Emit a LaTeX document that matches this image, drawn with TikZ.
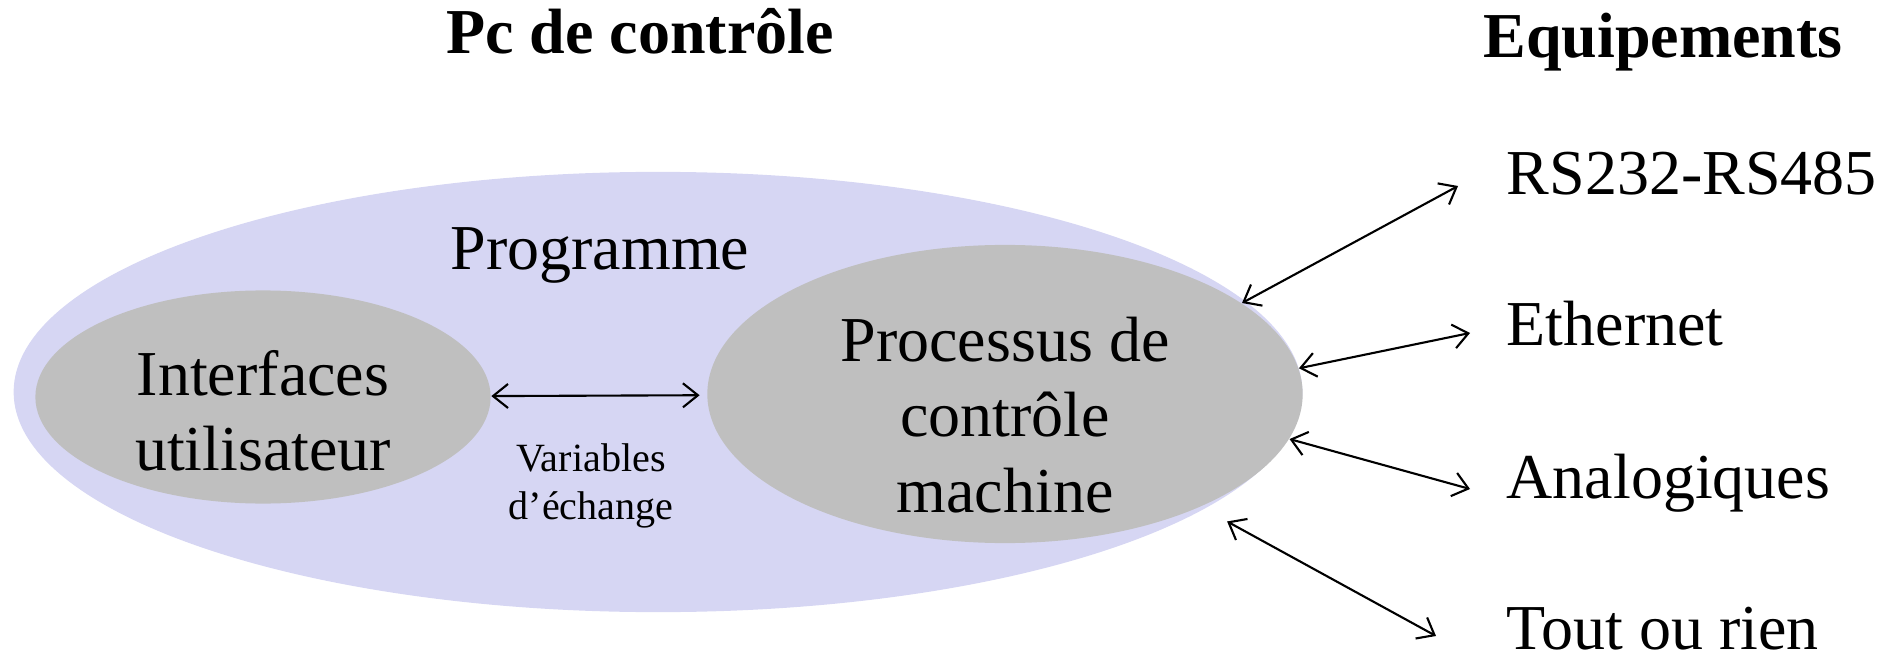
\documentclass[tikz,border=0pt]{standalone}
\usepackage{fontspec}
\setmainfont{Liberation Serif}
\usetikzlibrary{arrows.meta,positioning,shapes.geometric,calc}
\definecolor{ProgBlue}{RGB}{214,214,243}
\definecolor{BlobGray}{RGB}{191,191,191}
\tikzset{
  heading/.style={font=\bfseries\fontsize{18.2}{22}\selectfont,inner sep=0pt,anchor=base},
  bigtext/.style={font=\fontsize{18.2}{21.4}\selectfont,inner sep=0pt,align=center},
  smalltext/.style={font=\fontsize{11.4}{13.7}\selectfont,inner sep=0pt,align=center},
  blob/.style={ellipse,fill=BlobGray,inner sep=0pt},
  link/.style={{Straight Barb[length=1.5mm,width=2.4mm]}-{Straight Barb[length=1.5mm,width=2.4mm]},
    line width=0.6pt,black}
}
\begin{document}
\begin{tikzpicture}[x=0.01cm,y=-0.01cm]
\useasboundingbox (0,0) rectangle (1892,658);

% titles
\node[heading] (pc) at (640,54) {Pc de contrôle};
\node[heading] (equip) at (1663,58) {Equipements};

% programme and its two parts
\node[ellipse,fill=ProgBlue,inner sep=0pt,
      minimum width=12.88cm,minimum height=4.40cm] (prog) at (658,392) {};
\node[bigtext,anchor=base] (progtxt) at (600,270) {Programme};

\node[blob,minimum width=4.55cm,minimum height=2.13cm] (iface) at (263,397) {};
\node[bigtext] (ifacetxt) at (263,411) {Interfaces\\utilisateur};

\node[blob,minimum width=5.95cm,minimum height=2.98cm] (proc) at (1005,394) {};
\node[bigtext] (proctxt) at (1005,415) {Processus de\\contrôle\\machine};

\node[smalltext] (vars) at (591,486) {Variables\\d’échange};

% equipements
\node[bigtext,anchor=base west] (rs) at (1506,195) {RS232-RS485};
\node[bigtext,anchor=base west] (eth) at (1506,346) {Ethernet};
\node[bigtext,anchor=base west] (ana) at (1506,498) {Analogiques};
\node[bigtext,anchor=base west] (tor) at (1506,649) {Tout ou rien};

\coordinate (rsend) at (1458,186);
\coordinate (ethend) at (1470,333);
\coordinate (anaend) at (1470,489);
\coordinate (torend) at (1436,636);

% links
\draw[link,shorten >=2pt] (iface) -- (proc);
\draw[link] (proc.21) -- (rsend);
\draw[link] (proc.5) -- (ethend);
\draw[link] (proc.-9) -- (anaend);
\draw[link,shorten <=0.3cm] (proc.-30) -- (torend);

\end{tikzpicture}
\end{document}
